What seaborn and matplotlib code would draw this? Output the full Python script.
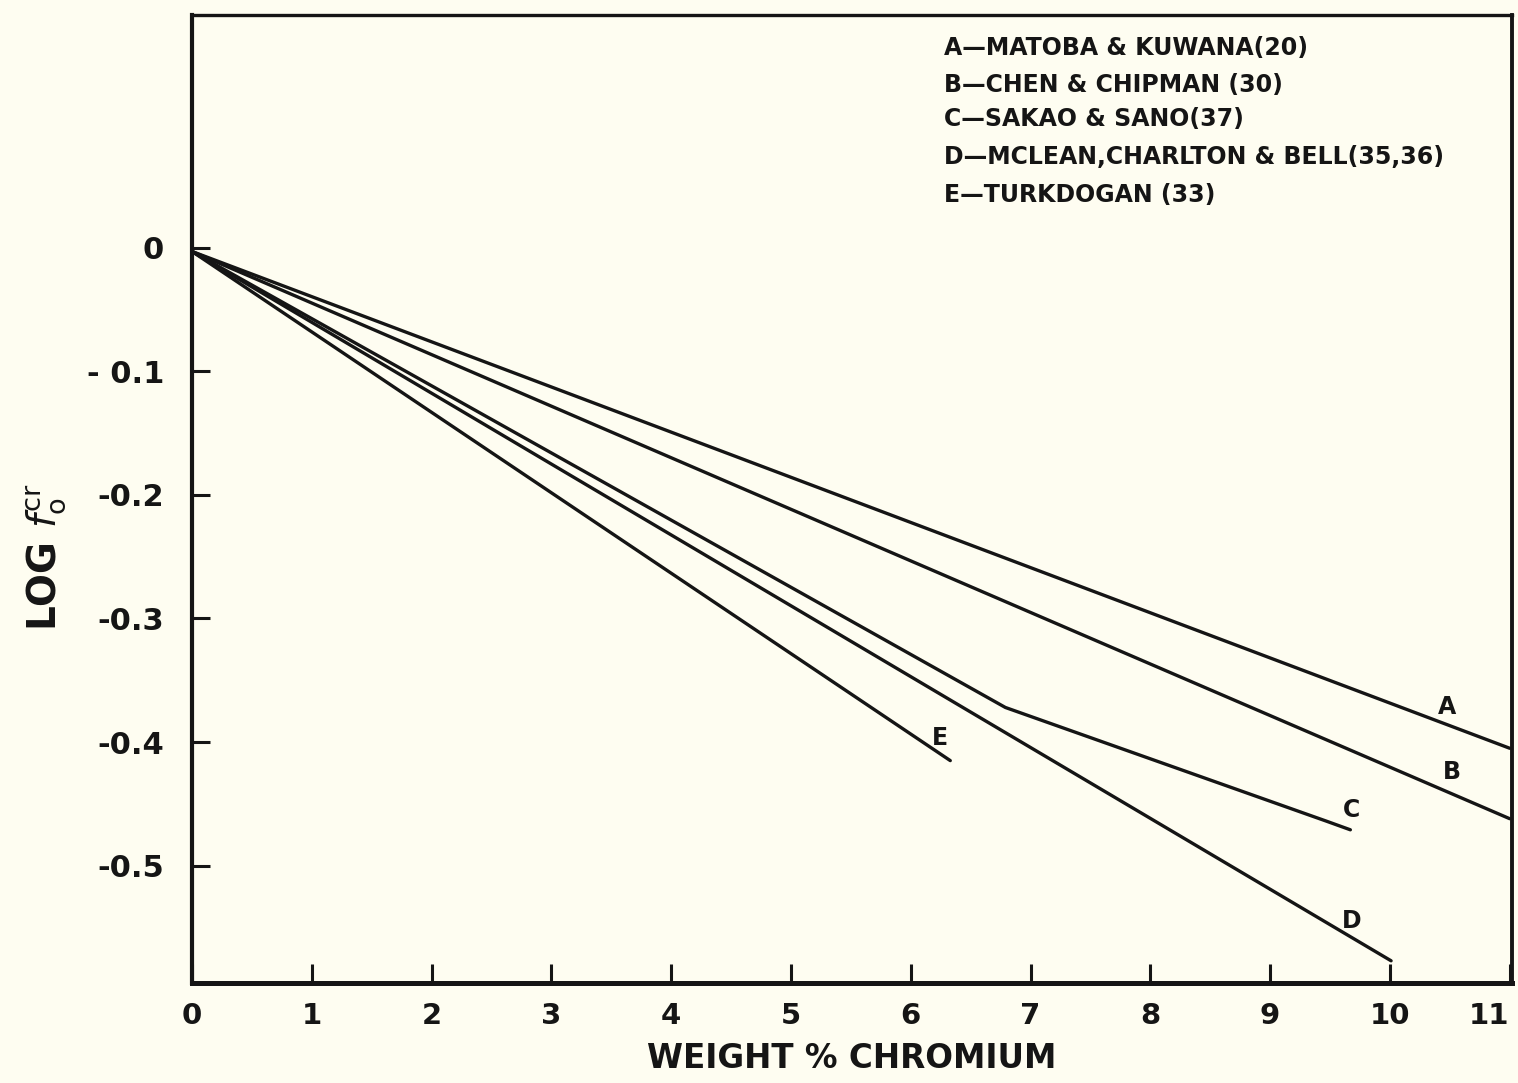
import numpy as np
import pandas as pd
import matplotlib
matplotlib.use("Agg")
import matplotlib.pyplot as plt
import seaborn as sns

# ---- data ----
studies = ["A", "B", "C", "D", "E"]
a_x = [0.0, 11.0]
a_y = [-0.003, -0.405]
b_x = [0.0, 11.0]
b_y = [-0.003, -0.462]
c_x = [0.0, 6.79, 9.47, 9.67]
c_y = [-0.003, -0.372, -0.464, -0.471]
d_x = [0.0, 10.01]
d_y = [-0.003, -0.577]
e_x = [0.0, 6.33]
e_y = [-0.003, -0.415]

legend_lines = [
    "A—MATOBA & KUWANA(20)",
    "B—CHEN & CHIPMAN (30)",
    "C—SAKAO & SANO(37)",
    "D—MCLEAN,CHARLTON & BELL(35,36)",
    "E—TURKDOGAN (33)",
]
end_label_x = [10.48, 10.52, 9.68, 9.68, 6.24]
end_label_y = [-0.372, -0.424, -0.455, -0.545, -0.397]

x_ticks = list(range(0, 12))
x_ticklabels = [str(v) for v in x_ticks]
y_ticks = [0, -0.1, -0.2, -0.3, -0.4, -0.5]
y_ticklabels = ["0", "- 0.1", "-0.2", "-0.3", "-0.4", "-0.5"]

frames = []
for name, xs, ys in zip(studies, [a_x, b_x, c_x, d_x, e_x], [a_y, b_y, c_y, d_y, e_y]):
    frames.append(pd.DataFrame({"x": xs, "y": ys, "study": name, "order": range(len(xs))}))
df = pd.concat(frames, ignore_index=True)

sns.set_theme(style="ticks")
plt.rcParams["font.family"] = ["DejaVu Sans"]

ink = "#151515"
bg = "#fefdf1"
fig = plt.figure(figsize=(15.18, 10.83), dpi=100, facecolor=bg)
ax = fig.add_axes([0.1265, 0.0923, 0.8696, 0.894])
ax.set_facecolor(bg)

sns.lineplot(data=df, x="x", y="y", units="study", estimator=None, sort=False,
             color=ink, linewidth=2.4, ax=ax, legend=False)

ax.set_xlim(0, 11.02)
ax.set_ylim(-0.595, 0.1885)

ax.set_xticks(x_ticks)
ax.set_xticklabels(x_ticklabels)
ax.set_yticks(y_ticks)
ax.set_yticklabels(y_ticklabels)
ax.tick_params(axis="x", direction="in", length=14, width=2.2, pad=14,
               labelsize=21, colors=ink)
ax.tick_params(axis="y", direction="in", length=13, width=2.2, pad=20,
               labelsize=22, colors=ink)
for lab in ax.get_xticklabels() + ax.get_yticklabels():
    lab.set_fontweight("bold")
ax.get_xticklabels()[-1].set_horizontalalignment("right")

for side, w in [("left", 3.0), ("bottom", 3.6), ("top", 2.4), ("right", 2.8)]:
    ax.spines[side].set_visible(True)
    ax.spines[side].set_linewidth(w)
    ax.spines[side].set_color(ink)

ax.set_xlabel("WEIGHT % CHROMIUM", fontsize=23.5, fontweight="bold",
              color=ink, labelpad=8)
ax.set_ylabel(r"LOG $f_{\mathrm{o}}^{\mathrm{cr}}$", fontsize=28,
              fontweight="bold", color=ink)
ax.yaxis.set_label_coords(-0.094, 0.44)

legend_y = [0.966, 0.928, 0.892, 0.853, 0.814]
for txt, yy in zip(legend_lines, legend_y):
    ax.text(0.570, yy, txt, transform=ax.transAxes, fontsize=17, fontweight="bold",
            color=ink, va="center", ha="left")

for name, lx, ly in zip(studies, end_label_x, end_label_y):
    ax.text(lx, ly, name, fontsize=17, fontweight="bold", color=ink,
            ha="center", va="center")

fig.savefig("out.png", dpi=100, facecolor=bg)
